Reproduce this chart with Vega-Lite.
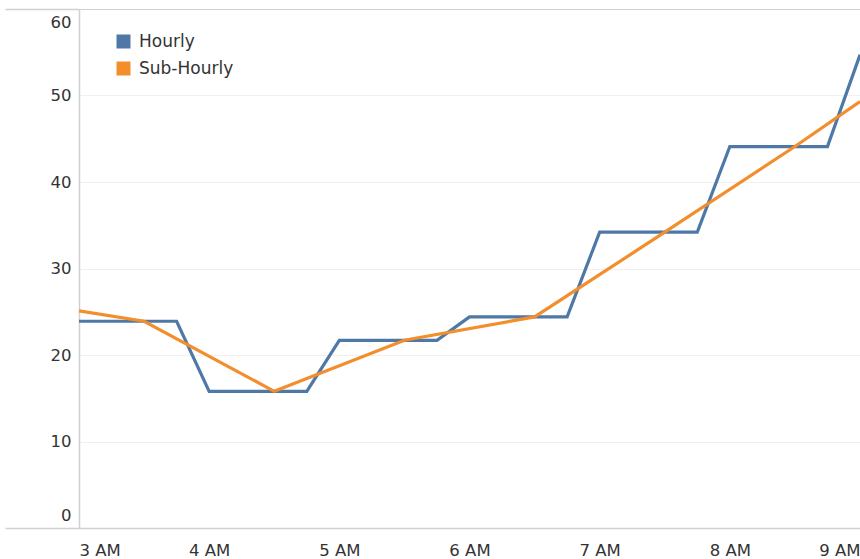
{
  "$schema": "https://vega.github.io/schema/vega-lite/v6.json",
  "autosize": {"type": "none"},
  "padding": {"left": 79, "top": 9, "right": 0, "bottom": 31},
  "width": 781,
  "height": 519,
  "background": "white",
  "config": {
    "font": "DejaVu Sans",
    "view": {"stroke": null},
    "axis": {
      "labelFont": "DejaVu Sans",
      "labelFontSize": 16.5,
      "labelColor": "#333333",
      "domainColor": "#d0d0d0",
      "domainWidth": 1.5,
      "gridColor": "#f0f0f0",
      "gridWidth": 1,
      "title": null
    }
  },
  "data": {
    "values": [
      {"time": "2020-01-01T03:00", "series": "Hourly", "value": 23.9},
      {"time": "2020-01-01T03:15", "series": "Hourly", "value": 23.9},
      {"time": "2020-01-01T03:30", "series": "Hourly", "value": 23.9},
      {"time": "2020-01-01T03:45", "series": "Hourly", "value": 23.9},
      {"time": "2020-01-01T04:00", "series": "Hourly", "value": 15.8},
      {"time": "2020-01-01T04:15", "series": "Hourly", "value": 15.8},
      {"time": "2020-01-01T04:30", "series": "Hourly", "value": 15.8},
      {"time": "2020-01-01T04:45", "series": "Hourly", "value": 15.8},
      {"time": "2020-01-01T05:00", "series": "Hourly", "value": 21.7},
      {"time": "2020-01-01T05:15", "series": "Hourly", "value": 21.7},
      {"time": "2020-01-01T05:30", "series": "Hourly", "value": 21.7},
      {"time": "2020-01-01T05:45", "series": "Hourly", "value": 21.7},
      {"time": "2020-01-01T06:00", "series": "Hourly", "value": 24.4},
      {"time": "2020-01-01T06:15", "series": "Hourly", "value": 24.4},
      {"time": "2020-01-01T06:30", "series": "Hourly", "value": 24.4},
      {"time": "2020-01-01T06:45", "series": "Hourly", "value": 24.4},
      {"time": "2020-01-01T07:00", "series": "Hourly", "value": 34.2},
      {"time": "2020-01-01T07:15", "series": "Hourly", "value": 34.2},
      {"time": "2020-01-01T07:30", "series": "Hourly", "value": 34.2},
      {"time": "2020-01-01T07:45", "series": "Hourly", "value": 34.2},
      {"time": "2020-01-01T08:00", "series": "Hourly", "value": 44.1},
      {"time": "2020-01-01T08:15", "series": "Hourly", "value": 44.1},
      {"time": "2020-01-01T08:30", "series": "Hourly", "value": 44.1},
      {"time": "2020-01-01T08:45", "series": "Hourly", "value": 44.1},
      {"time": "2020-01-01T09:00", "series": "Hourly", "value": 54.7},
      {"time": "2020-01-01T03:00", "series": "Sub-Hourly", "value": 25.1},
      {"time": "2020-01-01T03:30", "series": "Sub-Hourly", "value": 23.9},
      {"time": "2020-01-01T04:30", "series": "Sub-Hourly", "value": 15.8},
      {"time": "2020-01-01T05:30", "series": "Sub-Hourly", "value": 21.7},
      {"time": "2020-01-01T06:30", "series": "Sub-Hourly", "value": 24.4},
      {"time": "2020-01-01T07:30", "series": "Sub-Hourly", "value": 34.2},
      {"time": "2020-01-01T08:30", "series": "Sub-Hourly", "value": 44.1},
      {"time": "2020-01-01T09:00", "series": "Sub-Hourly", "value": 49.3}
    ]
  },
  "mark": {"type": "line", "strokeWidth": 3.2},
  "encoding": {
    "x": {
      "field": "time",
      "type": "temporal",
      "axis": {
        "format": "%-I %p",
        "tickCount": 6,
        "grid": false,
        "ticks": false,
        "labelFlush": true,
        "labelPadding": 14
      }
    },
    "y": {
      "field": "value",
      "type": "quantitative",
      "scale": {"domain": [0, 60], "nice": false},
      "axis": {
        "values": [0, 10, 20, 30, 40, 50, 60],
        "ticks": true,
        "tickSize": 74,
        "tickWidth": 1.5,
        "tickColor": {"condition": {"test": "datum.value === 0 || datum.value === 60", "value": "#d0d0d0"}, "value": "transparent"},
        "gridColor": {"condition": {"test": "datum.value === 60", "value": "#d0d0d0"}, "value": "#f0f0f0"},
        "labelFlush": true,
        "labelFlushOffset": -5,
        "labelPadding": -66,
        "grid": true
      }
    },
    "color": {
      "field": "series",
      "type": "nominal",
      "scale": {"domain": ["Hourly", "Sub-Hourly"], "range": ["#4e79a7", "#f28e2b"]},
      "legend": {
        "title": null,
        "orient": "none",
        "legendX": 36,
        "legendY": 24,
        "symbolType": "square",
        "symbolSize": 49,
        "symbolStrokeWidth": 7,
        "labelFontSize": 17,
        "labelColor": "#333333",
        "rowPadding": -8,
        "labelOffset": 7
      }
    }
  }
}
